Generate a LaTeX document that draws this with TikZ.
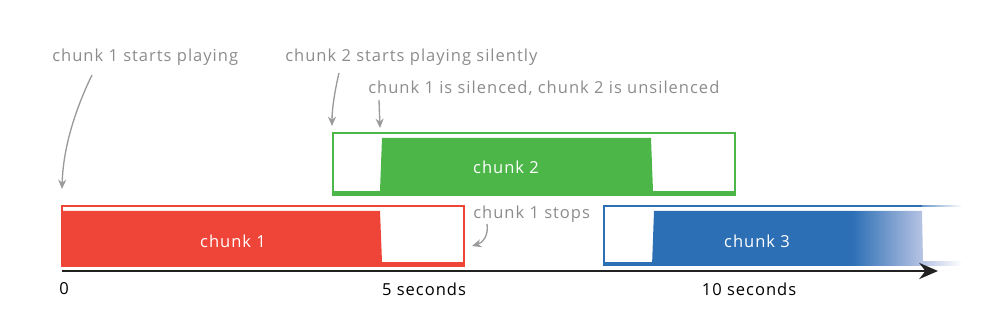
\documentclass[tikz,border=0pt]{standalone}
\usepackage{fontspec}
\setmainfont{Open Sans}[LetterSpace=6]
\usetikzlibrary{arrows.meta}
\definecolor{cred}{HTML}{EF4438}
\definecolor{cgreen}{HTML}{4CB748}
\definecolor{cblue}{HTML}{2C6FB5}
\definecolor{cblueL}{HTML}{B8C4E4}
\definecolor{cgray}{HTML}{8C8C8C}
\definecolor{carrow}{HTML}{9A9A9A}
\definecolor{caxis}{HTML}{222222}
\tikzset{
  note/.style={text=cgray, anchor=west, inner sep=0pt, font=\fontsize{12.4}{14}\selectfont},
  axislabel/.style={text=black, inner sep=0pt, font=\fontsize{12.4}{14}\selectfont},
  chunklabel/.style={text=white, inner sep=0pt, font=\fontsize{12.4}{14}\selectfont},
  pointer/.style={draw=carrow, line width=1pt, -{Stealth[length=7pt,width=6pt]}},
}
\begin{document}
\begin{tikzpicture}[x=0.75pt,y=-0.75pt]
\useasboundingbox (0,0) rectangle (1000,334);

% chunk 2 (green)
\fill[cgreen] (382,138) -- (651,138) -- (653,191) -- (380,191) -- cycle;
\fill[cgreen] (333,191) rectangle (735,195);
\draw[cgreen, line width=1pt] (333,133) rectangle (735,195);

% chunk 1 (red)
\fill[cred] (62,211) -- (380,211) -- (382,262) -- (62,262) -- cycle;
\fill[cred] (62,262) rectangle (464,266);
\draw[cred, line width=1pt] (62,206) -- (464,206) -- (464,266) -- (62,266) -- cycle;

% chunk 3 (blue)
\fill[cblue] (654,211) -- (852,211) -- (852,266) -- (652,266) -- cycle;
\shade[left color=cblue, right color=cblueL] (852,211) -- (922,211) -- (923,262) -- (923,266) -- (852,266) -- cycle;
\fill[cblue] (604,262) rectangle (852,266);
\shade[left color=cblueL, right color=white] (923,262) rectangle (962,266);
\draw[cblue, line width=1pt] (922,206) -- (604,206) -- (604,266);
\shade[left color=cblue!70, right color=white] (922,205.5) rectangle (962,206.5);

% axis
\coordinate (a0) at (62,271);
\coordinate (a1) at (938,271);
\draw[caxis, line width=2.2pt, -{Stealth[length=14pt,width=12pt]}] (a0) -- (a1);

% chunk labels
\node[chunklabel] (c1) at (233,241) {chunk 1};
\node[chunklabel] (c2) at (506,167) {chunk 2};
\node[chunklabel] (c3) at (757,241) {chunk 3};

% axis labels
\node[axislabel] (t0) at (64,289) {0};
\node[axislabel] (t5) at (424,289) {5 seconds};
\node[axislabel] (t10) at (749,289) {10 seconds};

% notes
\node[note] (n1) at (52,57) {chunk 1 starts playing};
\node[note] (n2) at (285,57) {chunk 2 starts playing silently};
\node[note] (n3) at (368,88) {chunk 1 is silenced, chunk 2 is unsilenced};
\node[note] (n4) at (473,214) {chunk 1 stops};

% pointers
\coordinate (p1s) at (92,75);
\coordinate (p1e) at (62,189);
\coordinate (p2s) at (339,73);
\coordinate (p2e) at (332,126);
\coordinate (p3s) at (379,100);
\coordinate (p3e) at (380,128);
\coordinate (p4s) at (487,224);
\coordinate (p4e) at (472,246);
\draw[pointer] (p1s) .. controls (74,112) and (63,150) .. (p1e);
\draw[pointer] (p2s) .. controls (335,90) and (332,108) .. (p2e);
\draw[pointer] (p3s) -- (p3e);
\draw[pointer] (p4s) .. controls (489,236) and (482,243) .. (p4e);
\end{tikzpicture}
\end{document}
